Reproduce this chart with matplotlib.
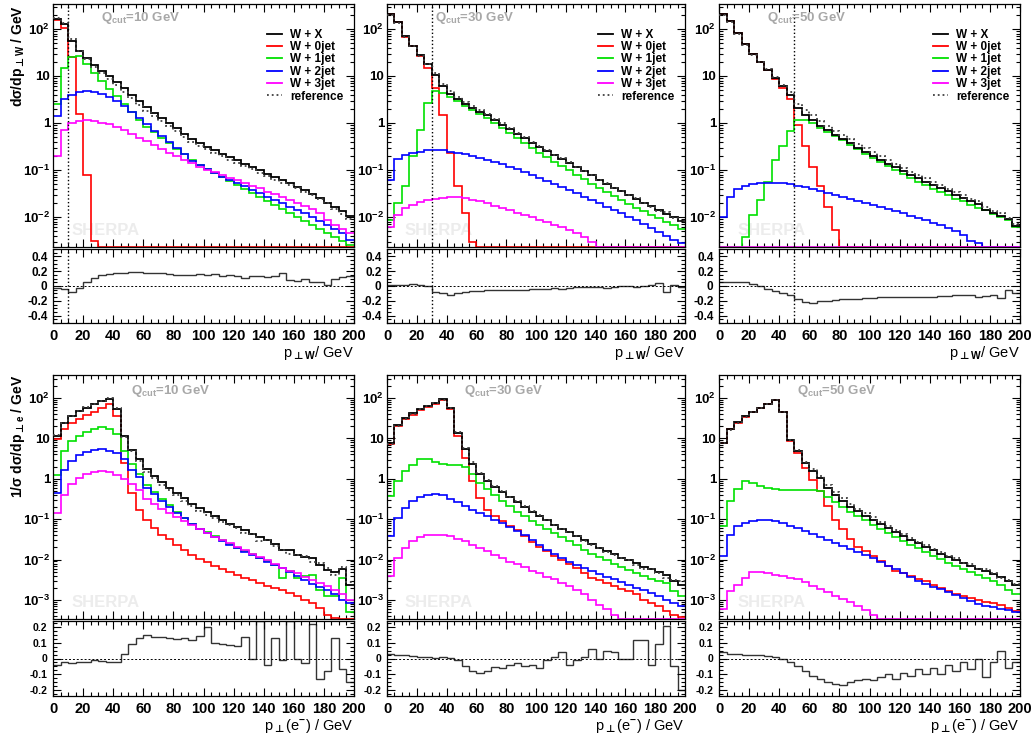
"""
W + jets merging plots: transverse momentum of the W and of the electron
for three merging scales Q_cut, split by jet multiplicity, with a ratio
panel (MC - reference) / reference underneath every plot.
"""

import numpy as np
import matplotlib
matplotlib.use("Agg")
from matplotlib import pyplot as plt
from matplotlib.lines import Line2D
from matplotlib.ticker import MultipleLocator, FixedLocator, LogLocator, FuncFormatter, NullFormatter

plt.rcParams["font.family"] = ["Liberation Sans", "DejaVu Sans"]
plt.rcParams["font.weight"] = "bold"
plt.rcParams["mathtext.fontset"] = "custom"
plt.rcParams["mathtext.rm"] = "Liberation Sans:bold"
plt.rcParams["mathtext.bf"] = "DejaVu Sans:bold"      # has the up-tack sign
plt.rcParams["mathtext.it"] = "Liberation Sans:bold:italic"
plt.rcParams["mathtext.default"] = "bf"

# histogram binning [GeV]
EDGES = np.linspace(0.0, 200.0, 41)
QCUTS = [10, 30, 50]

# ---- data: log10 of the bin content, 5 GeV bins from 0 to 200 GeV, -9 = empty bin ----

# p_T(W), Q_cut = 10 GeV
wpt10_jet0 = [2.20, 2.03, 1.40, 0.20, -1.10, -2.50, -9, -9, -9, -9,
              -9, -9, -9, -9, -9, -9, -9, -9, -9, -9,
              -9, -9, -9, -9, -9, -9, -9, -9, -9, -9,
              -9, -9, -9, -9, -9, -9, -9, -9, -9, -9]
wpt10_jet1 = [0.40, 1.17, 1.41, 1.42, 1.25, 1.07, 0.90, 0.73, 0.57, 0.40,
              0.24, 0.07, -0.09, -0.20, -0.32, -0.43, -0.55, -0.67, -0.79, -0.89,
              -0.97, -1.06, -1.14, -1.23, -1.31, -1.40, -1.48, -1.57, -1.65, -1.74,
              -1.82, -1.91, -1.99, -2.08, -2.16, -2.25, -2.33, -2.42, -2.50, -2.60]
wpt10_jet2 = [0.15, 0.50, 0.60, 0.66, 0.68, 0.65, 0.61, 0.55, 0.46, 0.36,
              0.23, 0.10, -0.03, -0.16, -0.28, -0.41, -0.54, -0.67, -0.80, -0.90,
              -0.98, -1.06, -1.14, -1.21, -1.28, -1.35, -1.42, -1.49, -1.57, -1.64,
              -1.71, -1.78, -1.85, -1.92, -2.00, -2.08, -2.17, -2.26, -2.35, -2.48]
wpt10_jet3 = [-0.70, -0.14, 0.00, 0.04, 0.06, 0.04, 0.01, -0.03, -0.09, -0.15,
              -0.23, -0.31, -0.39, -0.47, -0.55, -0.63, -0.70, -0.78, -0.85, -0.93,
              -0.99, -1.05, -1.11, -1.17, -1.22, -1.28, -1.34, -1.39, -1.46, -1.52,
              -1.58, -1.64, -1.71, -1.77, -1.84, -1.92, -2.06, -2.17, -2.26, -2.35]
wpt10_ratio = [-0.03, -0.04, -0.08, -0.03, 0.05, 0.11, 0.15, 0.165, 0.175, 0.18,
               0.185, 0.185, 0.18, 0.175, 0.17, 0.16, 0.15, 0.155, 0.15, 0.16,
               0.15, 0.16, 0.14, 0.15, 0.13, 0.11, 0.13, 0.14, 0.12, 0.14,
               0.17, 0.08, 0.07, 0.09, 0.05, 0.06, 0.01, 0.09, 0.12, 0.14]

# p_T(W), Q_cut = 30 GeV
wpt30_jet0 = [2.31, 2.14, 1.84, 1.64, 1.42, 1.17, 0.75, 0.18, -0.64, -1.35,
              -1.92, -2.53, -9, -9, -9, -9, -9, -9, -9, -9,
              -9, -9, -9, -9, -9, -9, -9, -9, -9, -9,
              -9, -9, -9, -9, -9, -9, -9, -9, -9, -9]
wpt30_jet1 = [-2.06, -1.71, -1.35, -0.71, -0.14, 0.43, 0.67, 0.64, 0.56, 0.46,
              0.37, 0.28, 0.19, 0.10, 0.00, -0.11, -0.21, -0.32, -0.43, -0.53,
              -0.63, -0.73, -0.83, -0.92, -1.01, -1.10, -1.20, -1.29, -1.38, -1.47,
              -1.56, -1.64, -1.72, -1.80, -1.88, -1.96, -2.03, -2.10, -2.18, -2.26]
wpt30_jet2 = [-1.21, -0.77, -0.68, -0.64, -0.61, -0.58, -0.57, -0.58, -0.61, -0.64,
              -0.67, -0.70, -0.74, -0.78, -0.83, -0.87, -0.93, -0.98, -1.04, -1.10,
              -1.17, -1.23, -1.30, -1.36, -1.42, -1.49, -1.57, -1.64, -1.71, -1.78,
              -1.85, -1.92, -1.99, -2.06, -2.15, -2.23, -2.32, -2.41, -2.48, -2.55]
wpt30_jet3 = [-2.21, -1.96, -1.81, -1.74, -1.69, -1.64, -1.61, -1.59, -1.57, -1.58,
              -1.60, -1.63, -1.67, -1.71, -1.76, -1.81, -1.86, -1.91, -1.96, -2.01,
              -2.06, -2.11, -2.16, -2.21, -2.28, -2.35, -2.43, -2.53, -9, -9,
              -9, -9, -9, -9, -9, -9, -9, -9, -9, -9]
wpt30_ratio = [0.02, 0.02, 0.02, 0.025, 0.01, 0.0, -0.08, -0.10, -0.12, -0.10,
               -0.08, -0.07, -0.065, -0.06, -0.06, -0.06, -0.055, -0.05, -0.05, -0.045,
               -0.04, -0.04, -0.03, -0.035, -0.025, -0.02, -0.01, -0.02, -0.015, -0.03,
               -0.01, -0.005, 0.0, -0.02, 0.0, 0.01, 0.04, -0.08, 0.02, -0.01]

# p_T(W), Q_cut = 50 GeV
wpt50_jet0 = [2.31, 2.17, 1.92, 1.69, 1.46, 1.30, 1.12, 0.94, 0.75, 0.51,
              -0.04, -0.50, -0.93, -1.35, -1.78, -2.28, -9, -9, -9, -9,
              -9, -9, -9, -9, -9, -9, -9, -9, -9, -9,
              -9, -9, -9, -9, -9, -9, -9, -9, -9, -9]
wpt50_jet1 = [-9, -9, -9, -2.42, -1.96, -1.64, -1.25, -0.78, -0.50, -0.18,
              0.07, 0.06, -0.01, -0.10, -0.19, -0.28, -0.37, -0.46, -0.56, -0.65,
              -0.74, -0.83, -0.92, -1.00, -1.09, -1.17, -1.25, -1.32, -1.40, -1.47,
              -1.54, -1.61, -1.67, -1.74, -1.80, -1.86, -1.93, -1.99, -2.06, -2.21]
wpt50_jet2 = [-1.99, -1.57, -1.41, -1.34, -1.30, -1.28, -1.27, -1.27, -1.28, -1.30,
              -1.33, -1.37, -1.40, -1.44, -1.49, -1.53, -1.57, -1.62, -1.66, -1.70,
              -1.74, -1.79, -1.83, -1.87, -1.92, -1.97, -2.02, -2.07, -2.12, -2.17,
              -2.23, -2.29, -2.38, -2.51, -2.56, -9, -9, -9, -9, -9]
wpt50_jet3 = [-3.3, -3.0, -2.9, -2.85, -2.8, -2.8, -2.8, -2.8, -2.8, -2.85,
              -2.85, -2.9, -2.9, -2.95, -3.0, -3.0, -3.05, -3.1, -3.1, -3.15,
              -3.2, -3.2, -3.25, -3.3, -3.3, -3.35, -3.4, -3.4, -3.45, -3.5,
              -3.5, -3.55, -3.6, -3.6, -3.65, -3.7, -3.7, -3.75, -3.8, -3.8]
wpt50_ratio = [0.05, 0.05, 0.05, 0.05, 0.03, 0.0, -0.04, -0.07, -0.09, -0.12,
               -0.17, -0.22, -0.23, -0.205, -0.20, -0.19, -0.18, -0.18, -0.17, -0.165,
               -0.16, -0.155, -0.15, -0.155, -0.15, -0.15, -0.155, -0.15, -0.145, -0.14,
               -0.13, -0.125, -0.12, -0.12, -0.15, -0.13, -0.125, -0.16, -0.06, -0.10]

# p_T(e-), Q_cut = 10 GeV
ept10_jet0 = [0.98, 1.22, 1.37, 1.48, 1.57, 1.66, 1.75, 1.86, 1.55, 0.40,
              -0.35, -0.76, -1.01, -1.21, -1.38, -1.50, -1.63, -1.75, -1.88, -1.98,
              -2.06, -2.15, -2.23, -2.31, -2.39, -2.45, -2.51, -2.57, -2.64, -2.70,
              -2.76, -2.82, -2.90, -2.99, -3.07, -3.19, -3.36, -3.44, -9, -9]
ept10_jet1 = [0.10, 0.68, 0.93, 1.07, 1.16, 1.24, 1.28, 1.22, 1.12, 0.68,
              0.37, 0.13, -0.15, -0.33, -0.50, -0.66, -0.81, -0.96, -1.11, -1.23,
              -1.31, -1.42, -1.52, -1.61, -1.70, -1.78, -1.86, -1.95, -2.04, -2.13,
              -2.45, -2.28, -2.45, -2.41, -2.37, -2.74, -2.90, -2.90, -2.45, -3.3]
ept10_jet2 = [-0.35, 0.23, 0.44, 0.58, 0.66, 0.71, 0.73, 0.69, 0.63, 0.50,
              0.23, 0.05, -0.22, -0.38, -0.55, -0.69, -0.84, -0.97, -1.11, -1.23,
              -1.34, -1.44, -1.54, -1.63, -1.72, -1.80, -1.88, -1.96, -2.05, -2.13,
              -2.21, -2.31, -2.40, -2.50, -2.60, -2.68, -2.76, -2.86, -2.99, -3.07]
ept10_jet3 = [-0.85, -0.39, -0.14, 0.02, 0.12, 0.18, 0.20, 0.17, 0.10, 0.00,
              -0.14, -0.28, -0.51, -0.63, -0.74, -0.84, -0.94, -1.04, -1.14, -1.24,
              -1.34, -1.44, -1.52, -1.60, -1.68, -1.77, -1.85, -1.94, -2.02, -2.11,
              -2.21, -2.27, -2.34, -2.42, -2.50, -2.57, -2.66, -2.74, -2.84, -2.99]
ept10_ratio = [-0.04, -0.025, -0.03, -0.025, -0.02, -0.01, -0.015, -0.025, -0.02, 0.03,
               0.09, 0.13, 0.15, 0.14, 0.14, 0.13, 0.125, 0.13, 0.12, 0.145,
               0.20, 0.10, 0.09, 0.085, 0.08, 0.14, 0.0, 0.24, -0.04, 0.13,
               -0.01, 0.24, 0.0, -0.03, 0.22, -0.13, -0.08, 0.13, -0.07, -0.15]

# p_T(e-), Q_cut = 30 GeV
ept30_jet0 = [0.85, 1.30, 1.47, 1.59, 1.70, 1.78, 1.86, 1.95, 1.73, 1.06,
              0.52, -0.06, -0.47, -0.76, -0.92, -1.05, -1.17, -1.27, -1.42, -1.57,
              -1.68, -1.79, -1.91, -2.01, -2.10, -2.20, -2.33, -2.45, -2.51, -2.57,
              -2.66, -2.72, -2.78, -2.84, -2.99, -3.07, -3.15, -3.28, -3.36, -3.42]
ept30_jet1 = [-0.43, -0.06, 0.19, 0.35, 0.48, 0.50, 0.41, 0.37, 0.35, 0.33,
              0.29, 0.11, -0.10, -0.26, -0.41, -0.54, -0.68, -0.81, -0.92, -1.04,
              -1.15, -1.25, -1.35, -1.45, -1.55, -1.65, -1.75, -1.85, -1.94, -2.02,
              -2.10, -2.19, -2.26, -2.33, -2.41, -2.47, -2.52, -2.57, -2.78, -2.90]
ept30_jet2 = [-1.42, -0.97, -0.72, -0.55, -0.45, -0.39, -0.37, -0.41, -0.50, -0.58,
              -0.68, -0.76, -0.84, -0.92, -1.01, -1.09, -1.19, -1.29, -1.40, -1.52,
              -1.63, -1.75, -1.86, -1.96, -2.05, -2.13, -2.21, -2.29, -2.36, -2.43,
              -2.49, -2.56, -2.62, -2.69, -2.76, -2.82, -2.90, -2.99, -3.07, -3.15]
ept30_jet3 = [-2.41, -1.96, -1.71, -1.54, -1.44, -1.39, -1.38, -1.39, -1.42, -1.49,
              -1.55, -1.63, -1.71, -1.79, -1.88, -1.96, -2.05, -2.12, -2.19, -2.27,
              -2.34, -2.42, -2.49, -2.57, -2.66, -2.76, -2.86, -2.99, -3.11, -3.23,
              -3.36, -9, -9, -9, -9, -9, -9, -9, -9, -9]
ept30_ratio = [0.03, 0.02, 0.02, 0.015, 0.01, 0.008, 0.005, 0.01, 0.005, -0.01,
               -0.05, -0.08, -0.09, -0.08, -0.055, -0.06, -0.04, -0.03, -0.05, -0.04,
               -0.06, -0.01, 0.01, 0.04, -0.04, -0.01, 0.01, 0.06, 0.0, 0.05,
               0.04, 0.0, 0.0, 0.12, 0.12, -0.04, 0.09, 0.21, -0.05, -0.2]

# p_T(e-), Q_cut = 50 GeV
ept50_jet0 = [0.89, 1.22, 1.39, 1.53, 1.65, 1.75, 1.85, 1.95, 1.65, 0.93,
              0.63, 0.27, -0.03, -0.31, -0.68, -1.01, -1.25, -1.50, -1.68, -1.79,
              -1.91, -2.04, -2.16, -2.27, -2.34, -2.41, -2.48, -2.53, -2.62, -2.70,
              -2.78, -2.84, -2.89, -2.94, -2.99, -3.04, -3.07, -3.11, -3.19, -3.28]
ept50_jet1 = [-1.17, -0.55, -0.26, -0.06, -0.10, -0.18, -0.23, -0.26, -0.27, -0.28,
              -0.28, -0.27, -0.27, -0.31, -0.45, -0.58, -0.70, -0.82, -0.92, -1.03,
              -1.14, -1.25, -1.34, -1.44, -1.53, -1.63, -1.72, -1.81, -1.90, -1.99,
              -2.08, -2.15, -2.23, -2.30, -2.38, -2.45, -2.52, -2.62, -2.74, -2.86]
ept50_jet2 = [-1.91, -1.38, -1.17, -1.09, -1.05, -1.03, -1.02, -1.05, -1.09, -1.16,
              -1.22, -1.29, -1.36, -1.44, -1.51, -1.58, -1.66, -1.73, -1.80, -1.88,
              -1.95, -2.05, -2.15, -2.24, -2.34, -2.44, -2.52, -2.60, -2.67, -2.73,
              -2.80, -2.87, -2.95, -3.03, -3.09, -3.14, -3.18, -3.22, -3.25, -3.30]
ept50_jet3 = [-3.23, -2.78, -2.62, -2.45, -2.30, -2.31, -2.33, -2.37, -2.41, -2.45,
              -2.49, -2.55, -2.64, -2.72, -2.81, -2.89, -2.97, -3.05, -3.14, -3.25,
              -3.37, -9, -9, -9, -9, -9, -9, -9, -9, -9,
              -9, -9, -9, -9, -9, -9, -9, -9, -9, -9]
ept50_ratio = [0.04, 0.03, 0.03, 0.025, 0.02, 0.02, 0.015, 0.01, 0.0, -0.02,
               -0.05, -0.08, -0.11, -0.13, -0.15, -0.16, -0.17, -0.15, -0.14, -0.13,
               -0.14, -0.12, -0.10, -0.13, -0.09, -0.11, -0.07, -0.10, -0.06, -0.10,
               -0.04, -0.08, -0.02, -0.07, 0.0, -0.12, -0.02, 0.05, -0.06, -0.02]

LABELS = ["W + X", "W + 0jet", "W + 1jet", "W + 2jet", "W + 3jet", "reference"]
JET_COLORS = ["#ff0000", "#00e000", "#0000ff", "#ff00ff"]
REF_COLOR = "#404040"
QCUT_COLOR = "#a8a8a8"

W, H = 1034, 738


def px_axes(fig, x0, y0, x1, y1):
    """ adds an axes given its pixel box (top-left origin) """
    return fig.add_axes([x0 / W, 1 - y1 / H, (x1 - x0) / W, (y1 - y0) / H])


def log_label(v, pos):
    e = int(round(np.log10(v)))
    if e == 0:
        return "1"
    if e == 1:
        return "10"
    return r"$\mathrm{10^{%d}}$" % e


def ratio_label(v, pos):
    if abs(v) < 1e-9:
        return "0"
    return "%g" % round(v, 2)


def style_axes(ax):
    ax.tick_params(which="both", direction="in", top=True, right=True, width=0.8)
    ax.tick_params(which="major", length=6)
    ax.tick_params(which="minor", length=3)
    for s in ax.spines.values():
        s.set_linewidth(0.9)
    ax.set_xlim(0, 200)
    ax.xaxis.set_major_locator(MultipleLocator(20))
    ax.xaxis.set_minor_locator(MultipleLocator(5))


def plot_panel(ax, rax, jets, ratio, ylim, rlim, rstep, rsize, qcut, cutline, legend, qpos):
    """ main histogram panel with jet contributions plus the ratio panel """
    vals = [10.0 ** np.array(j) for j in jets]
    total = np.sum(vals, axis=0)
    ratio = np.array(ratio)
    ref = total / (1.0 + ratio)
    lo = ylim[0]

    style_axes(ax)
    ax.set_yscale("log")
    ax.set_ylim(*ylim)
    decades = np.arange(np.ceil(np.log10(ylim[0])), np.floor(np.log10(ylim[1])) + 1)
    ax.yaxis.set_major_locator(FixedLocator(10.0 ** decades))
    ax.yaxis.set_minor_locator(LogLocator(base=10, subs=np.arange(2, 10), numticks=20))
    ax.yaxis.set_major_formatter(FuncFormatter(log_label))
    ax.yaxis.set_minor_formatter(NullFormatter())
    ax.tick_params(axis="y", labelsize=9.5, pad=2)
    ax.tick_params(labelbottom=False)

    ax.stairs(np.maximum(ref, lo), EDGES, baseline=None, color=REF_COLOR, ls=":", lw=1.3, zorder=3)
    for v, c in zip(vals, JET_COLORS):
        ax.stairs(np.maximum(v, lo), EDGES, baseline=None, color=c, lw=1.2, zorder=2)
    ax.stairs(np.maximum(total, lo), EDGES, baseline=None, color="black", lw=1.3, zorder=2.5)

    if cutline:
        ax.axvline(qcut, color="black", ls=":", lw=1.0)

    ax.text(qpos[0], qpos[1], r"Q$_{\rm cut}$=%d GeV" % qcut, transform=ax.transAxes,
            color=QCUT_COLOR, fontsize=9.5, fontweight="bold", va="center", ha="left")
    ax.text(0.06, 0.035, "SHERPA", transform=ax.transAxes, color="#ececec",
            fontsize=12, fontweight="bold", va="bottom", ha="left", zorder=0)

    if legend:
        handles = [Line2D([], [], color="black", lw=1.3)]
        handles += [Line2D([], [], color=c, lw=1.3) for c in JET_COLORS]
        handles += [Line2D([], [], color=REF_COLOR, lw=1.3, ls=":")]
        ax.legend(handles, LABELS, loc="upper right", bbox_to_anchor=(0.965, 0.898),
                  frameon=False, fontsize=8.5, borderpad=0, labelspacing=0.03,
                  handlelength=1.3, handletextpad=0.7, borderaxespad=0)

    # ratio panel
    style_axes(rax)
    rax.set_ylim(*rlim)
    rax.yaxis.set_major_locator(MultipleLocator(rstep))
    rax.yaxis.set_minor_locator(MultipleLocator(rstep / 4))
    rax.yaxis.set_major_formatter(FuncFormatter(ratio_label))
    rax.tick_params(axis="y", labelsize=rsize, pad=4)
    rax.tick_params(axis="x", labelsize=10.5, pad=4)
    rax.axhline(0, color="black", ls=(0, (2, 2)), lw=0.7)
    if cutline:
        rax.axvline(qcut, color="black", ls=":", lw=1.0)
    rax.stairs(ratio, EDGES, baseline=None, color="#333333", lw=1.0)


fig = plt.figure(figsize=(W / 100, H / 100), dpi=100)
fig.patch.set_facecolor("white")

COLS = [(53, 354), (387, 685), (719, 1020)]

wpt = [
    [wpt10_jet0, wpt10_jet1, wpt10_jet2, wpt10_jet3],
    [wpt30_jet0, wpt30_jet1, wpt30_jet2, wpt30_jet3],
    [wpt50_jet0, wpt50_jet1, wpt50_jet2, wpt50_jet3],
]
wpt_ratio = [wpt10_ratio, wpt30_ratio, wpt50_ratio]
ept = [
    [ept10_jet0, ept10_jet1, ept10_jet2, ept10_jet3],
    [ept30_jet0, ept30_jet1, ept30_jet2, ept30_jet3],
    [ept50_jet0, ept50_jet1, ept50_jet2, ept50_jet3],
]
ept_ratio = [ept10_ratio, ept30_ratio, ept50_ratio]

for i, (x0, x1) in enumerate(COLS):
    # top row: W transverse momentum
    ax = px_axes(fig, x0, 4, x1, 247)
    rax = px_axes(fig, x0, 249, x1, 323)
    plot_panel(ax, rax, wpt[i], wpt_ratio[i], (2.3e-3, 340), (-0.5, 0.5), 0.2, 8.5,
               QCUTS[i], True, True, (0.16, 0.942))
    rax.set_xlabel(r"p$_{\bot\mathrm{W}}$/ GeV", loc="right", fontsize=10.5, labelpad=1)

    # bottom row: electron transverse momentum
    ax = px_axes(fig, x0, 375, x1, 619)
    rax = px_axes(fig, x0, 621, x1, 696)
    plot_panel(ax, rax, ept[i], ept_ratio[i], (3.4e-4, 370), (-0.24, 0.24), 0.1, 7.5,
               QCUTS[i], False, False, (0.26, 0.935))
    rax.set_xlabel(r"p$_{\bot}$(e$^{\mathrm{-}}$) / GeV", loc="right", fontsize=10.5, labelpad=1)

fig.text(18 / W, 1 - 5 / H, r"dσ/dp$_{\bot\mathrm{W}}$ / GeV", rotation=90,
         ha="center", va="top", fontsize=10, fontweight="bold")
fig.text(18 / W, 1 - 375 / H, r"1/σ dσ/dp$_{\bot\mathrm{e}}$ / GeV", rotation=90,
         ha="center", va="top", fontsize=10, fontweight="bold")

fig.savefig("out.png", dpi=100)
